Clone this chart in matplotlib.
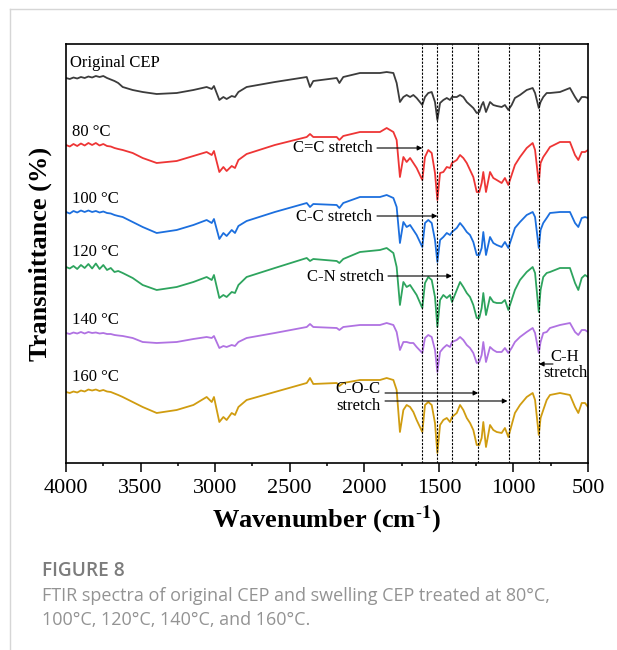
import matplotlib
matplotlib.use("Agg")
import matplotlib.pyplot as plt
from matplotlib.lines import Line2D
from matplotlib.ticker import MultipleLocator

plt.rcParams['font.family'] = ['Liberation Serif', 'DejaVu Serif']
plt.rcParams['mathtext.fontset'] = 'stix'

# wavenumber grid (cm-1)
wavenumber = [4000, 3975, 3950, 3925, 3900, 3875, 3850, 3825, 3800, 3775, 3750, 3725, 3700, 3675, 3650,
              3620, 3553, 3486, 3392, 3258, 3146, 3057, 3023, 3008, 2972, 2945, 2923, 2889, 2867, 2844,
              2789, 2600, 2386, 2364, 2342, 2185, 2167, 2141, 2029,
              1895, 1850, 1805, 1783, 1761, 1738, 1716, 1693, 1671, 1649, 1611, 1593, 1571, 1548, 1526,
              1510, 1492, 1470, 1447, 1425, 1412, 1380, 1358, 1336, 1313, 1291, 1269, 1246, 1229, 1213,
              1202, 1184, 1157, 1135, 1112, 1079, 1057, 1034, 1012, 990, 956, 911, 871, 855, 830, 818,
              800, 777, 755, 688, 621, 587, 565, 542, 520, 500]

# stacked transmittance (arbitrary offset units)
original = [422, 421, 422.5, 421.5, 423, 422, 423.5, 422.5, 424, 423, 424, 422, 420.5, 419, 417,
            413, 410, 408, 406, 407, 410, 413, 411, 414, 400, 403, 401, 404, 403, 408, 413, 418, 423, 413,
            419, 422, 417, 423, 427,
            427, 428, 427, 417, 398, 403, 405, 403, 405, 402, 395, 403, 407, 408, 398, 380, 397, 400, 402,
            400, 403, 403, 405, 403, 398, 395, 392, 387, 388, 395, 398, 388, 398, 395, 394, 393, 395, 390,
            395, 402, 405, 410, 412, 407, 392, 398, 403, 407, 407, 408, 412, 403, 398, 403, 403, 402]
t80 = [355, 353.5, 356, 354, 356.5, 354.5, 357, 355, 357, 354.5, 356, 354, 353.5, 352, 351,
       350, 347, 342, 337, 339, 344, 348, 345, 349, 328, 333, 329, 334, 332, 340, 346, 355, 363, 366,
       363, 363, 360, 364, 368,
       368, 372, 368, 360, 323, 343, 338, 342, 337, 332, 320, 343, 350, 347, 327, 300, 327, 328, 333,
       332, 337, 340, 345, 342, 337, 330, 323, 308, 308, 317, 328, 308, 328, 322, 320, 317, 322, 315,
       325, 335, 343, 352, 357, 350, 317, 337, 343, 348, 353, 358, 358, 345, 340, 348, 348, 350]
t100 = [288, 286.5, 289, 287.5, 289.5, 288, 289.5, 288, 289, 287.5, 288.5, 287, 286.5, 285, 284,
        283, 278, 273, 267, 270, 275, 280, 277, 281, 261, 267, 264, 270, 267, 274, 279, 288, 297, 293,
        296, 295, 292, 297, 303,
        303, 305, 302, 293, 257, 278, 273, 275, 270, 265, 253, 277, 280, 277, 260, 238, 260, 263, 267,
        265, 268, 272, 277, 273, 268, 265, 258, 245, 245, 252, 268, 245, 263, 257, 255, 253, 258, 252,
        262, 272, 278, 285, 288, 283, 252, 270, 277, 282, 287, 288, 288, 277, 273, 282, 283, 282]
t120 = [233, 231.5, 234, 231, 235, 232, 236, 231.5, 236.5, 231, 235, 230, 232, 228, 229,
        227, 222, 215, 210, 213, 218, 223, 220, 225, 202, 205, 203, 208, 207, 215, 223, 232, 242, 239,
        241, 239, 237, 241, 248,
        250, 252, 247, 233, 195, 218, 213, 215, 210, 205, 192, 217, 223, 220, 203, 173, 200, 205, 202,
        205, 198, 210, 218, 213, 207, 203, 195, 182, 182, 192, 207, 185, 203, 198, 197, 197, 200, 190,
        200, 210, 220, 228, 233, 227, 188, 210, 223, 227, 228, 232, 232, 217, 210, 222, 225, 223]
t140 = [167, 166, 167.5, 166.5, 168, 166.5, 168, 167, 167.5, 166.5, 167, 166, 166, 165, 164.5,
        164, 162, 158, 157, 158, 161, 163, 162, 164, 152, 154, 153, 155, 154, 158, 162, 167, 173, 176,
        173, 172, 170, 173, 175,
        175, 177, 175, 168, 150, 158, 158, 157, 157, 153, 147, 162, 165, 163, 150, 128, 148, 152, 155,
        153, 158, 160, 163, 160, 155, 152, 147, 137, 138, 145, 158, 138, 153, 150, 148, 148, 152, 147,
        152, 158, 163, 168, 172, 167, 147, 158, 167, 168, 172, 175, 177, 168, 165, 170, 170, 168]
t160 = [108, 107, 108.5, 107.5, 109.5, 108.5, 110.5, 109.5, 110.5, 109, 110, 108.5, 108, 106.5, 105,
        103, 98, 93, 87, 90, 95, 103, 98, 103, 78, 83, 80, 87, 85, 93, 100, 108, 117, 122,
        116, 117, 114, 117, 120,
        120, 122, 120, 110, 68, 90, 95, 93, 88, 80, 68, 95, 98, 95, 77, 47, 75, 80, 82,
        78, 83, 87, 95, 90, 82, 77, 70, 55, 55, 62, 78, 53, 75, 70, 68, 67, 72, 63,
        75, 87, 95, 103, 107, 100, 65, 82, 90, 100, 105, 107, 105, 93, 87, 97, 97, 93]

series = [original, t80, t100, t120, t140, t160]
series_labels = ["Original CEP", "80 °C", "100 °C", "120 °C", "140 °C", "160 °C"]
colors = ["#3c3c3c", "#ee3535", "#1c6fde", "#2ea45e", "#b072e2", "#d09c10"]
label_x = [3975, 3958, 3958, 3958, 3958, 3958]
label_y = [437, 368, 301, 248, 180, 123]

band_positions = [1611, 1510, 1412, 1236, 1032, 827]

fig = plt.figure(figsize=(6.17, 6.5), dpi=100)
ax = fig.add_axes([0.107, 0.2877, 0.846, 0.6446])

for y, c in zip(series, colors):
    ax.plot(wavenumber, y, color=c, lw=1.3)

for w in band_positions:
    ax.axvline(w, color="black", lw=0.8, ls=(0, (2.0, 1.3)))

for lab, x, y in zip(series_labels, label_x, label_y):
    ax.text(x, y, lab, fontsize=12, ha="left", va="center")

arrow = dict(arrowstyle="-|>", color="black", lw=0.8, mutation_scale=7, shrinkA=0, shrinkB=0)


def band_arrow(x0, x1, y):
    ax.annotate("", xy=(x1, y), xytext=(x0, y), arrowprops=arrow)


ax.text(1945, 352, "C=C stretch", fontsize=12, ha="right", va="center")
band_arrow(1915, 1611, 352)
ax.text(1945, 283, "C-C stretch", fontsize=12, ha="right", va="center")
band_arrow(1915, 1510, 284)
ax.text(1868, 223, "C-N stretch", fontsize=12, ha="right", va="center")
band_arrow(1841, 1412, 224)
ax.text(2042, 102.5, "C-O-C\nstretch", fontsize=12, ha="center", va="center", linespacing=1.1)
band_arrow(1861, 1236, 107)
band_arrow(1861, 1040, 99)
ax.text(654, 134.5, "C-H\nstretch", fontsize=12, ha="center", va="center", linespacing=1.0)
band_arrow(735, 829, 136)

ax.set_xlim(4000, 500)
ax.set_ylim(37, 456)
ax.set_yticks([])
ax.set_xticks(range(500, 4001, 500))
ax.xaxis.set_minor_locator(MultipleLocator(250))
ax.tick_params(axis="x", which="major", direction="out", length=6.5, width=1.1, labelsize=16, pad=5)
ax.tick_params(axis="x", which="minor", direction="out", length=2.5, width=1.1)
for s in ax.spines.values():
    s.set_linewidth(1.2)

fig.text(40 / 617, 1 - 253.5 / 650, "Transmittance (%)", rotation=90, fontsize=19,
         fontweight="bold", ha="center", va="center")
fig.text(327 / 617, 1 - 520 / 650, r"Wavenumber (cm$^{\mathbf{\text{-}1}}$)", fontsize=19,
         fontweight="bold", ha="center", va="center")

# caption
cap_font = ["Open Sans", "DejaVu Sans"]
fig.text(42 / 617, 1 - 571 / 650, "FIGURE 8", family=cap_font,
         fontsize=13.8, fontweight="semibold", color="#7c7c7c", ha="left", va="center")
fig.text(42 / 617, 1 - 596 / 650, "FTIR spectra of original CEP and swelling CEP treated at 80°C,",
         family=cap_font, fontsize=13.0, color="#939393", ha="left", va="center")
fig.text(42 / 617, 1 - 620 / 650, "100°C, 120°C, 140°C, and 160°C.",
         family=cap_font, fontsize=13.0, color="#939393", ha="left", va="center")

# page frame
fig.add_artist(Line2D([10 / 617, 10 / 617], [0, 1 - 9 / 650], transform=fig.transFigure,
                      color="#d6d6d6", lw=1))
fig.add_artist(Line2D([10 / 617, 1], [1 - 9 / 650, 1 - 9 / 650], transform=fig.transFigure,
                      color="#d6d6d6", lw=1))

fig.savefig("out.png", dpi=100)
